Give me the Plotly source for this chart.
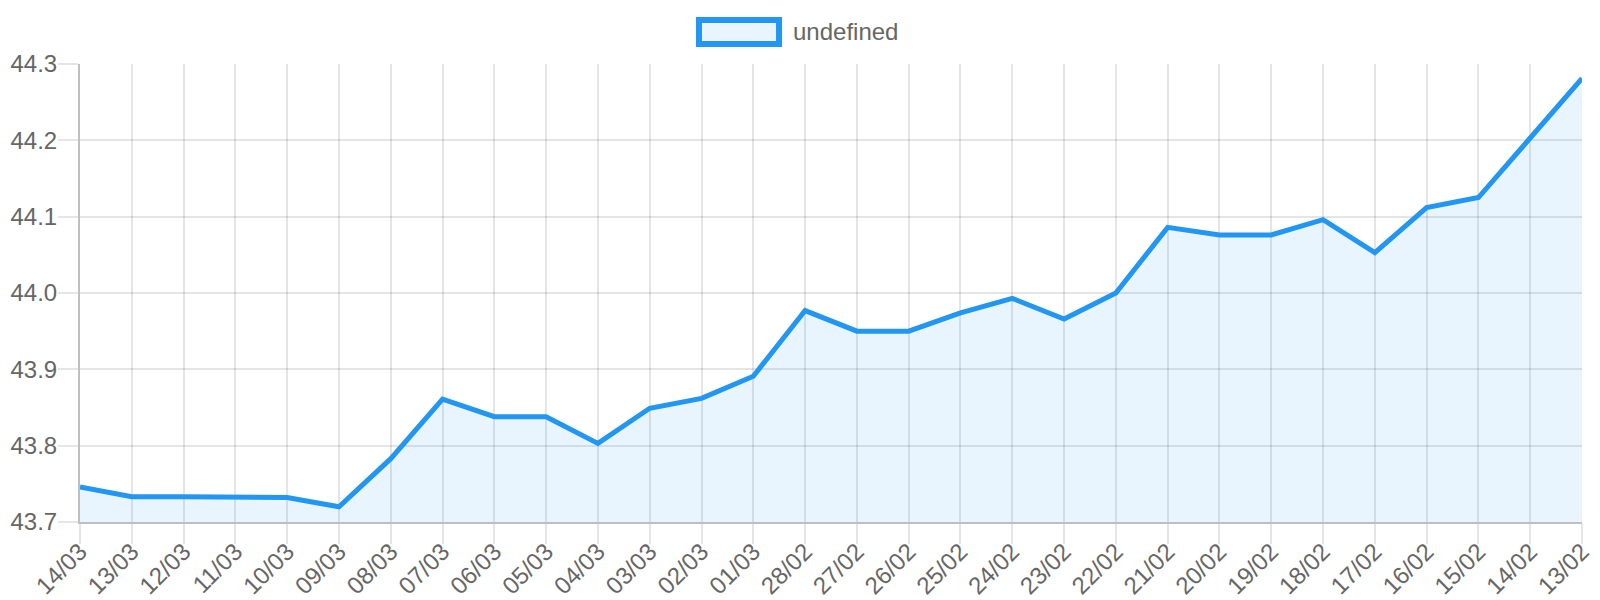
import plotly.graph_objects as go

# Daily values, newest first (as in the original chart)
dates = ["14/03", "13/03", "12/03", "11/03", "10/03", "09/03", "08/03", "07/03",
         "06/03", "05/03", "04/03", "03/03", "02/03", "01/03", "28/02", "27/02",
         "26/02", "25/02", "24/02", "23/02", "22/02", "21/02", "20/02", "19/02",
         "18/02", "17/02", "16/02", "15/02", "14/02", "13/02"]
values = [43.746, 43.733, 43.733, 43.733, 43.732, 43.720, 43.783, 43.861,
          43.838, 43.838, 43.803, 43.849, 43.862, 43.891, 43.977, 43.950,
          43.950, 43.974, 43.993, 43.966, 44.000, 44.086, 44.076, 44.076,
          44.096, 44.053, 44.112, 44.125, 44.204, 44.281]
y_ticks = [43.7, 43.8, 43.9, 44.0, 44.1, 44.2, 44.3]

line_color = "#2196F3"
fill_color = "rgba(33,150,243,0.1)"
grid_color = "rgba(0,0,0,0.1)"
axis_color = "rgba(0,0,0,0.25)"
font = dict(family="Liberation Sans, Arial, sans-serif", size=24, color="#666666")

fig = go.Figure()
fig.add_trace(go.Scatter(x=dates, y=values, mode="lines", fill="tozeroy",
                         fillcolor=fill_color, line=dict(color=line_color, width=5),
                         name="undefined", showlegend=False))

# Chart.js style legend box + label drawn by hand
fig.add_shape(type="rect", xref="paper", yref="paper", x0=0.4121, x1=0.4654,
              y0=1.0437, y1=1.0961, line=dict(color=line_color, width=6),
              fillcolor=fill_color)
fig.add_annotation(x=0.4735, y=1.0699, xref="paper", yref="paper", text="undefined",
                   showarrow=False, xanchor="left", yanchor="middle", font=font)

fig.update_xaxes(range=[0, len(dates) - 1], showgrid=True, gridcolor=grid_color,
                 gridwidth=2, ticks="outside", ticklen=20, tickwidth=2,
                 tickcolor=grid_color, tickangle=-45, ticklabelstandoff=-16,
                 showline=True, linecolor=axis_color, linewidth=2, tickfont=font,
                 zeroline=False, automargin=False)
fig.update_yaxes(range=[43.7, 44.3], tickvals=y_ticks, tickformat=".1f",
                 showgrid=True, gridcolor=grid_color, gridwidth=2, ticks="outside",
                 ticklen=20, tickwidth=2, tickcolor=grid_color, ticklabelstandoff=-4,
                 showline=True, linecolor=axis_color, linewidth=2, tickfont=font,
                 zeroline=False, automargin=False)

# page body adds an 8px offset, so margins are shifted to compensate
fig.update_layout(width=1600, height=600, plot_bgcolor="white", paper_bgcolor="white",
                  margin=dict(l=72, r=26, t=56, b=86), font=font)

fig.write_html("out.html")
